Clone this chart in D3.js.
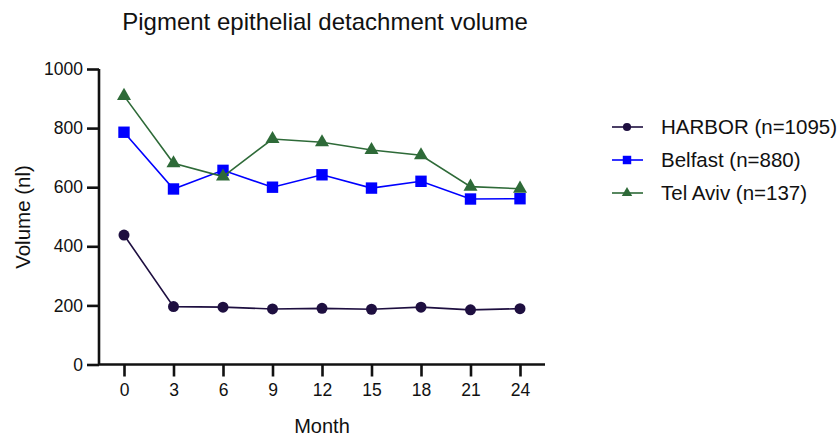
<!DOCTYPE html>
<html>
<head>
<meta charset="utf-8">
<script src="https://cdn.jsdelivr.net/npm/d3@7"></script>
<style>
body { margin: 0; background: #fff; }
text { font-family: "Liberation Sans", Arial, sans-serif; fill: #111; }
</style>
</head>
<body>
<svg width="839" height="440"></svg>
<script>
const months = [0, 3, 6, 9, 12, 15, 18, 21, 24];
const harbor = [438, 196, 194, 188, 190, 187, 194, 185, 189];
const belfast = [786, 594, 657, 600, 642, 597, 620, 560, 561];
const telAviv = [909, 681, 636, 763, 752, 726, 708, 602, 595];
const yTicks = [0, 200, 400, 600, 800, 1000];
const seriesNames = ["HARBOR (n=1095)", "Belfast (n=880)", "Tel Aviv (n=137)"];

const series = [
	{name: seriesNames[0], values: harbor, color: "#1e0f40", shape: d3.symbolCircle, size: 95},
	{name: seriesNames[1], values: belfast, color: "#0000ff", shape: d3.symbolSquare, size: 130},
	{name: seriesNames[2], values: telAviv, color: "#2e6a38", shape: d3.symbolTriangle, size: 85}
];

const svg = d3.select("svg");

const x = d3.scaleLinear().domain([0, 24]).range([124, 520]);
const y = d3.scaleLinear().domain([0, 1000]).range([364.5, 69]);

// title
svg.append("text")
	.attr("x", 325).attr("y", 30)
	.attr("text-anchor", "middle")
	.style("font-size", "24px")
	.text("Pigment epithelial detachment volume");

// y axis
const yAxis = svg.append("g")
	.attr("transform", "translate(99,0)")
	.call(d3.axisLeft(y).tickValues(yTicks).tickFormat(d3.format("d")).tickSize(12).tickPadding(4));
yAxis.select(".domain").attr("d", "M0,69V364.5");

// x axis
const xAxis = svg.append("g")
	.attr("transform", "translate(0,364.5)")
	.call(d3.axisBottom(x).tickValues(months).tickSize(12).tickPadding(7));
xAxis.select(".domain").attr("d", "M98,0H545");

svg.selectAll(".domain, .tick line")
	.attr("stroke", "#111").attr("stroke-width", 2.6);
svg.selectAll(".tick text").style("font-size", "17.5px").attr("fill", "#111");

svg.append("text")
	.attr("transform", "translate(30,217) rotate(-90)")
	.attr("text-anchor", "middle")
	.style("font-size", "20.5px")
	.text("Volume (nl)");

svg.append("text")
	.attr("x", 322).attr("y", 433)
	.attr("text-anchor", "middle")
	.style("font-size", "20px")
	.text("Month");

const line = d3.line()
	.x((d, i) => x(months[i]))
	.y(d => y(d));

series.forEach(s => {
	svg.append("path")
		.datum(s.values)
		.attr("d", line)
		.attr("fill", "none")
		.attr("stroke", s.color)
		.attr("stroke-width", 1.6);
	svg.selectAll(null)
		.data(s.values)
		.enter()
		.append("path")
		.attr("transform", (d, i) => "translate(" + x(months[i]) + "," + y(d) + ")")
		.attr("d", d3.symbol().type(s.shape).size(s.size))
		.attr("fill", s.color);
});

// legend
const legend = svg.append("g");
series.forEach((s, i) => {
	const ly = 127 + i * 33;
	legend.append("line")
		.attr("x1", 612).attr("x2", 643)
		.attr("y1", ly).attr("y2", ly)
		.attr("stroke", s.color).attr("stroke-width", 1.6);
	legend.append("path")
		.attr("transform", "translate(627," + ly + ")")
		.attr("d", d3.symbol().type(s.shape).size(s.size * 0.55))
		.attr("fill", s.color);
	legend.append("text")
		.attr("x", 661).attr("y", ly + 7)
		.style("font-size", "20.5px")
		.text(s.name);
});
</script>
</body>
</html>
